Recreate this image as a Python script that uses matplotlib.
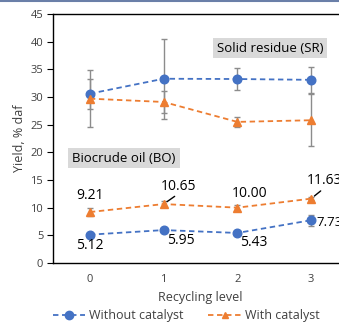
import matplotlib
matplotlib.use("Agg")
import matplotlib.pyplot as plt
from matplotlib.lines import Line2D

plt.rcParams['font.family'] = ['Open Sans', 'DejaVu Sans']

levels = [0, 1, 2, 3]
sr_without = [30.6, 33.3, 33.25, 33.1]
sr_without_err = [2.7, 7.2, 2.0, 2.3]
sr_with = [29.7, 29.1, 25.5, 25.8]
sr_with_err = [5.1, 2.0, 0.9, 4.7]
bo_without = [5.12, 5.95, 5.43, 7.73]
bo_without_err = [0.3, 0.3, 0.3, 1.0]
bo_with = [9.21, 10.65, 10.00, 11.63]
bo_with_err = [0.8, 0.6, 0.4, 0.3]
yticks = [0, 5, 10, 15, 20, 25, 30, 35, 40, 45]

blue = '#4472C4'
orange = '#ED7D31'
grey = '#8C8C8C'
txt = '#404040'

fig = plt.figure(figsize=(3.39, 3.26), dpi=100)
ax = fig.add_axes([53/339, 1 - 263/326, 295/339, 249/326])

def series(y, err, color, marker, ms):
    ax.errorbar(levels, y, yerr=err, fmt='none', ecolor=grey, elinewidth=1, capsize=2.2, capthick=1, zorder=1)
    ax.plot(levels, y, linestyle=(0, (3, 2)), color=color, linewidth=1.3,
            marker=marker, markersize=ms, markerfacecolor=color, markeredgecolor=color, zorder=2)

series(sr_without, sr_without_err, blue, 'o', 6.2)
series(sr_with, sr_with_err, orange, '^', 6)
series(bo_without, bo_without_err, blue, 'o', 6.2)
series(bo_with, bo_with_err, orange, '^', 6)

ax.set_xlim(-0.5, 3.5)
ax.set_ylim(0, 45)
ax.set_xticks(levels)
ax.set_yticks(yticks)
ax.tick_params(axis='both', labelsize=8, colors=txt)
ax.tick_params(axis='y', length=4, color='black', direction='out', pad=3)
ax.tick_params(axis='x', length=0, pad=8)
ax.spines['right'].set_visible(False)
for s in ['left', 'bottom', 'top']:
    ax.spines[s].set_color('black')
    ax.spines[s].set_linewidth(1)

ax.set_xlabel('Recycling level', fontsize=9, color=txt, labelpad=4)
ax.set_ylabel('Yield, % daf', fontsize=9, color=txt, labelpad=3)

fs = 10
px = 72 / 100  # pixels to points

def label(x, y, dx, dy, ha='center', line=False, size=fs):
    kw = dict(xytext=(dx * px, -dy * px), textcoords='offset points', ha=ha, va='center',
              fontsize=size, color='black', zorder=5)
    if line:
        kw['arrowprops'] = dict(arrowstyle='-', color='black', lw=1.0, shrinkA=0, shrinkB=3,
                                relpos=(0.5, 0.0))
    ax.annotate(f'{y:.2f}', (x, y), **kw)

label(levels[0], bo_with[0], 0, -17)
label(levels[1], bo_with[1], 15, -18, line=True)
label(levels[2], bo_with[2], 12, -14)
label(levels[3], bo_with[3], 13, -18, line=True)
label(levels[0], bo_without[0], 0, 11)
label(levels[1], bo_without[1], 17, 10)
label(levels[2], bo_without[2], 16, 10)
label(levels[3], bo_without[3], 5, 2, ha='left', size=9.5)

box = dict(boxstyle='square,pad=0.3', facecolor='#D9D9D9', edgecolor='none')
fig.text(270/339, 1 - 48/326, 'Solid residue (SR)', ha='center', va='center', fontsize=9.5, color='black', bbox=box)
fig.text(124/339, 1 - 158/326, 'Biocrude oil (BO)', ha='center', va='center', fontsize=9.5, color='black', bbox=box)

handles = [
    Line2D([], [], color=blue, linestyle=(0, (3, 2)), linewidth=1.3, marker='o', markersize=6),
    Line2D([], [], color=orange, linestyle=(0, (3, 2)), linewidth=1.3, marker='^', markersize=5),
]
fig.legend(handles, ['Without catalyst', 'With catalyst'], loc='center', bbox_to_anchor=(186/339, 1 - 316/326),
           ncol=2, frameon=False, fontsize=9, labelcolor=txt, handlelength=2.6, columnspacing=2.0,
           handletextpad=0.3, borderpad=0, borderaxespad=0)

fig.add_artist(Line2D([0, 1], [1 - 0.5/326, 1 - 0.5/326], transform=fig.transFigure, color='#6A7FA8', linewidth=1.5))

fig.savefig('out.png', dpi=100)
